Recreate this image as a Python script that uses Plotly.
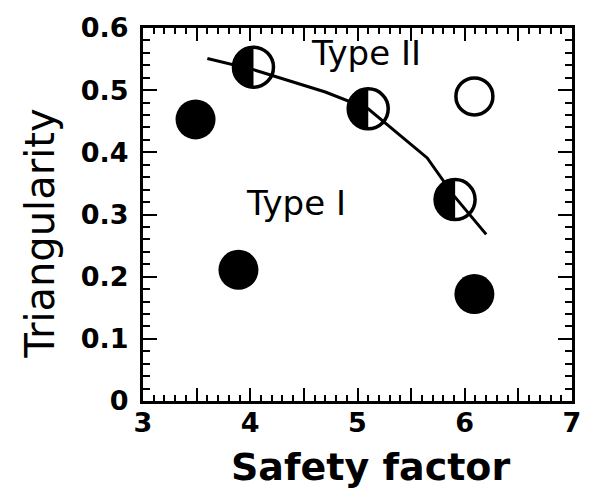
import numpy as np
import plotly.graph_objects as go

# ---- data ----
filled_x = [3.49, 3.89, 6.09]
filled_y = [0.453, 0.211, 0.172]
half_x = [4.03, 5.10, 5.91]
half_y = [0.537, 0.470, 0.324]
open_x = [6.09]
open_y = [0.490]
curve_x = [3.60, 4.03, 4.70, 5.10, 5.65, 5.90, 6.20]
curve_y = [0.551, 0.533, 0.497, 0.470, 0.391, 0.330, 0.268]
x_tickvals = [3, 3.5, 4, 4.5, 5, 5.5, 6, 6.5, 7]
x_ticktext = ["3", "", "4", "", "5", "", "6", "", "7"]
y_tickvals = [0, 0.1, 0.2, 0.3, 0.4, 0.5, 0.6]
y_ticktext = ["0", "0.1", "0.2", "0.3", "0.4", "0.5", "0.6"]
labels = ["Type II", "Type I"]
label_x = [5.08, 4.43]
label_y = [0.559, 0.318]

W, H = 593, 493
ML, MR, MT, MB = 143, 13, 22, 92
XR = [3, 7]
YR = [0, 0.6]
px_x = (W - ML - MR) / (XR[1] - XR[0])
px_y = (H - MT - MB) / (YR[1] - YR[0])

MS = 40  # marker diameter px

fig = go.Figure()

# open circles (including base for half-filled)
fig.add_trace(go.Scatter(
    x=half_x + open_x, y=half_y + open_y, mode="markers",
    marker=dict(symbol="circle", size=[MS] * len(half_x) + [37], color="white",
                opacity=1, line=dict(color="#000000", width=3.5)),
    showlegend=False, hoverinfo="skip"))

# left halves of the half-filled circles
r_px = MS / 2 + 1.2
theta = np.linspace(np.pi / 2, 3 * np.pi / 2, 40)
for cx, cy in zip(half_x, half_y):
    xs = cx + (r_px / px_x) * np.cos(theta)
    ys = cy + (r_px / px_y) * np.sin(theta)
    fig.add_trace(go.Scatter(
        x=list(xs), y=list(ys), mode="lines", fill="toself",
        fillcolor="black", line=dict(color="black", width=0.5),
        showlegend=False, hoverinfo="skip"))

# filled circles
fig.add_trace(go.Scatter(
    x=filled_x, y=filled_y, mode="markers",
    marker=dict(symbol="circle", size=MS, color="black",
                line=dict(color="black", width=0)),
    showlegend=False, hoverinfo="skip"))

# curve
fig.add_trace(go.Scatter(
    x=curve_x, y=curve_y, mode="lines",
    line=dict(color="black", width=3),
    showlegend=False, hoverinfo="skip"))

fig.update_xaxes(
    range=XR, showgrid=False, zeroline=False,
    showline=True, linecolor="black", linewidth=3, mirror="allticks",
    ticks="inside", ticklen=13, tickwidth=2, tickcolor="black",
    tickvals=x_tickvals, ticktext=x_ticktext,
    tickfont=dict(family="DejaVu Sans", size=27, color="black", weight="bold"),
    minor=dict(dtick=0.1, ticks="inside", ticklen=6, tickwidth=2, tickcolor="black"),
    ticklabelstandoff=-4,
)
fig.update_yaxes(
    range=YR, showgrid=False, zeroline=False,
    showline=True, linecolor="black", linewidth=3, mirror="allticks",
    ticks="inside", ticklen=14, tickwidth=2, tickcolor="black",
    tickvals=y_tickvals, ticktext=y_ticktext,
    tickfont=dict(family="DejaVu Sans", size=27, color="black", weight="bold"),
    minor=dict(dtick=0.02, ticks="inside", ticklen=7, tickwidth=2, tickcolor="black"),
    ticklabelstandoff=6,
)

annots = []
for t, lx, ly in zip(labels, label_x, label_y):
    annots.append(dict(x=lx, y=ly, xref="x", yref="y", text=t, showarrow=False,
                       font=dict(family="DejaVu Sans", size=34, color="black"),
                       xanchor="center", yanchor="middle"))
annots.append(dict(x=375, y=H - 468, xref="paper", yref="paper", text="<b>Safety factor</b>",
                   showarrow=False, font=dict(family="DejaVu Sans", size=38, color="black"),
                   xanchor="center", yanchor="middle"))
annots.append(dict(x=38, y=H - 231, xref="paper", yref="paper", text="Triangularity",
                   showarrow=False, textangle=-90,
                   font=dict(family="DejaVu Sans", size=40, color="black"),
                   xanchor="center", yanchor="middle"))
# convert pixel positions for the two title annotations into paper coordinates
for a in annots[-2:]:
    a["x"] = (a["x"] - ML) / (W - ML - MR)
    a["y"] = (a["y"] - MB) / (H - MT - MB)
# partially visible panel label at the left edge
annots.append(dict(x=(-2 - ML) / (W - ML - MR), y=(H - 250 - MB) / (H - MT - MB),
                   xref="paper", yref="paper", text=")", showarrow=False,
                   font=dict(family="DejaVu Sans", size=40, color="black"),
                   xanchor="right", yanchor="middle"))

fig.update_layout(
    width=W, height=H,
    margin=dict(l=ML, r=MR, t=MT, b=MB),
    paper_bgcolor="white", plot_bgcolor="white",
    annotations=annots,
)

fig.write_html("out.html")
